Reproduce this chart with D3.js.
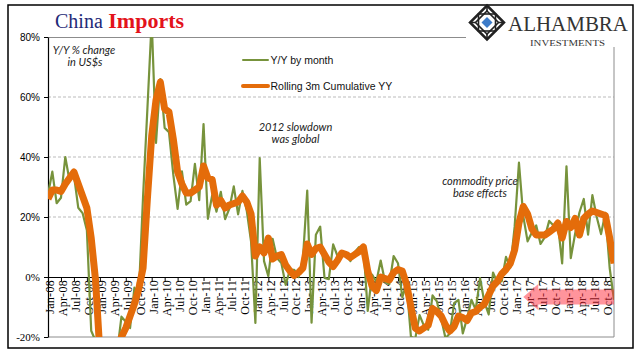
<!DOCTYPE html>
<html>
<head>
<meta charset="utf-8">
<script src="https://cdn.jsdelivr.net/npm/d3@7"></script>
<style>
  body { margin:0; background:#fff; }
  svg { display:block; }
</style>
</head>
<body>
<div class="canvas"></div>
<script>
// China imports, % Y/Y in US$, monthly Jan-08 .. Dec-18
const yoy = [
  27.6, 35.1, 24.6, 26.4, 40.0, 32.0, 34.0, 23.1, 21.3, 15.6, -17.9, -21.3,   // 2008
  -43.1, -24.1, -25.1, -23.0, -25.2, -13.2, -14.9, -17.0, -3.5, -6.4, 26.7, 55.9, // 2009
  85.5, 44.7, 66.0, 49.7, 48.3, 34.1, 22.7, 35.2, 24.1, 25.3, 37.7, 25.6,     // 2010
  51.0, 19.4, 27.3, 21.8, 28.4, 19.3, 22.9, 30.2, 20.9, 28.7, 22.1, 11.8,     // 2011
  -15.3, 39.6, 5.3, 0.3, 12.7, 6.3, 4.7, -2.6, 2.4, 2.4, 0.0, 6.0,            // 2012
  28.8, -15.2, 14.1, 16.8, -0.3, -0.7, 10.9, 7.0, 7.4, 7.6, 5.3, 8.3,         // 2013
  10.0, 10.1, -11.3, 0.8, -1.6, 5.5, -1.6, -2.4, 7.0, 4.6, -6.7, -2.4,        // 2014
  -19.9, -20.5, -12.7, -16.2, -17.6, -6.1, -8.1, -13.8, -20.4, -18.8, -8.7, -7.6, // 2015
  -18.8, -13.8, -7.6, -10.9, -0.4, -8.4, -12.5, 1.5, -1.9, -1.4, 6.7, 3.1,    // 2016
  16.7, 38.1, 20.3, 11.9, 14.8, 17.2, 11.0, 13.3, 18.7, 17.2, 17.7, 4.5,      // 2017
  36.9, 6.3, 14.4, 21.5, 26.0, 14.1, 27.3, 20.0, 14.3, 21.4, 3.0, -7.6        // 2018
];

// rolling 3 month cumulative
const rolling3m = [
  26, 29, 29, 28.5, 31, 33, 35, 31, 27, 23, 13, -1,          // 2008
  -25, -30, -28, -25, -24, -20, -17, -13, -9, -4, 3, 26,     // 2009
  47, 59, 65, 56, 55, 46, 35, 31, 28, 28, 29, 30,            // 2010
  37, 33, 32.5, 24, 25.5, 23, 24, 24.5, 25, 27, 25, 21,      // 2011
  7, 10, 8, 13, 6, 7, 7.5, 4, 2, 0.5, 1.5, 3,                // 2012
  11, 7.5, 9.5, 10, 7.5, 5, 3.5, 5.5, 8, 7.5, 6.5, 7.5,      // 2013
  8.5, 10, 2, -3, -4.5, 0, -0.5, -1, 1.5, 2.5, 2, -2.5,      // 2014
  -10, -17, -18, -17, -16, -10.5, -11.5, -13, -16, -18, -16.5, -13, // 2015
  -13.5, -14.5, -12, -11.5, -10, -9, -6, -3, -1.5, 1, 2.5, 4.5,     // 2016
  9, 18, 23.5, 21, 16, 14, 14, 14, 15, 16, 18, 13,           // 2017
  18.5, 16.5, 19.5, 14, 19.5, 21, 22, 21.5, 21, 20.5, 13, 4.5 // 2018
];

const months = d3.timeMonths(new Date(2008, 0, 1), new Date(2019, 0, 1)).map(d3.timeFormat('%b-%y'));
const monthTicks = months.filter((d, i) => i % 3 == 0);
const yTicks = [-20, 0, 20, 40, 60, 80];
const gridTicks = [20, 40, 60];

const green = '#77933c';
const orange = '#e46c0a';

const margin = { top:37, right:27, bottom:24, left:48 };
const graphWidth = 641 - margin.left - margin.right;
const graphHeight = 361 - margin.top - margin.bottom;

const svg = d3.select('.canvas')
              .append('svg')
              .attr('width', 641)
              .attr('height', 361);

svg.append('rect').attr('width', 641).attr('height', 361).attr('fill', '#fff');

// outer frame
svg.append('rect')
   .attr('x', 8).attr('y', 5)
   .attr('width', 625).attr('height', 343)
   .attr('fill', 'none')
   .attr('stroke', '#000')
   .attr('stroke-width', 1.5);

const graph = svg.append('g')
                 .attr('transform', `translate(${margin.left}, ${margin.top})`);

// scales
const x = d3.scalePoint().domain(months).range([0, graphWidth]);
const y = d3.scaleLinear().domain([-20, 80]).range([graphHeight, 0]);

// dashed gridlines
graph.append('g')
     .selectAll('line')
     .data(gridTicks)
     .enter().append('line')
     .attr('x1', 0).attr('x2', graphWidth)
     .attr('y1', d => y(d)).attr('y2', d => y(d))
     .attr('stroke', '#aaa')
     .attr('stroke-width', 0.8)
     .attr('stroke-dasharray', '3,2');

// grey plot border (top, right, bottom)
graph.append('path')
     .attr('d', `M0,0.5H${graphWidth}V${graphHeight}H0`)
     .attr('fill', 'none')
     .attr('stroke', '#8c8c8c')
     .attr('stroke-width', 1);

// x axis on the 0% line
const xAxisGroup = graph.append('g')
                        .attr('class', 'x-axis')
                        .attr('transform', `translate(0, ${y(0)})`);
xAxisGroup.call(d3.axisBottom(x).tickValues(monthTicks).tickSize(4).tickSizeOuter(0));
xAxisGroup.select('.domain').attr('stroke', '#000').attr('stroke-width', 1.2);
xAxisGroup.selectAll('.tick line').attr('stroke', '#000');
xAxisGroup.selectAll('text')
          .attr('transform', 'rotate(-90)')
          .attr('text-anchor', 'end')
          .attr('x', -3)
          .attr('y', 1.5)
          .attr('dy', '0.35em')
          .attr('fill', '#000')
          .style('font-family', '"Liberation Serif", "Times New Roman", serif')
          .style('font-size', '12px')
          .style('letter-spacing', '0.3px');

// y axis
const yAxisGroup = graph.append('g').attr('class', 'y-axis');
yAxisGroup.call(d3.axisLeft(y).tickValues(yTicks).tickSize(4).tickSizeOuter(0).tickFormat(d => d + '%'));
yAxisGroup.select('.domain').attr('stroke', '#000').attr('stroke-width', 1.2);
yAxisGroup.selectAll('.tick line').attr('stroke', '#000');
yAxisGroup.selectAll('text')
          .attr('x', -8)
          .attr('fill', '#000')
          .style('font-family', d => d > 0 ? '"Liberation Sans", Arial, sans-serif' : '"Liberation Serif", serif')
          .style('font-size', d => d > 0 ? '10px' : '11px');

// clip so the 2009/2010 extremes get cut at the plot edge
graph.append('clipPath').attr('id', 'plotClip')
     .append('rect').attr('width', graphWidth).attr('height', graphHeight);

const lineYoy = d3.line()
                  .x((d, i) => x(months[i]))
                  .y(d => y(d));

graph.append('path')
     .datum(yoy)
     .attr('clip-path', 'url(#plotClip)')
     .attr('fill', 'none')
     .attr('stroke', green)
     .attr('stroke-width', 2.2)
     .attr('stroke-linejoin', 'round')
     .attr('d', lineYoy);

graph.append('path')
     .datum(rolling3m)
     .attr('clip-path', 'url(#plotClip)')
     .attr('fill', 'none')
     .attr('stroke', orange)
     .attr('stroke-width', 7)
     .attr('stroke-linejoin', 'round')
     .attr('d', lineYoy);

// pink arrow over the late 2017-2018 labels
const ax0 = margin.left + x('Mar-17');
const ax1 = margin.left + graphWidth;
const ay = 297;
svg.append('path')
   .attr('d', `M${ax0},${ay} L${ax0 + 15},${ay - 13} V${ay - 7.5} H${ax1} V${ay + 7.5} H${ax0 + 15} V${ay + 13} Z`)
   .attr('fill', '#ff2a3a')
   .attr('opacity', 0.5);

// title
const title = svg.append('text')
                 .attr('x', 55).attr('y', 28)
                 .style('font-family', '"Liberation Serif", "Times New Roman", serif');
title.append('tspan').text('China').attr('fill', '#1f2a78').style('font-size', '20px');
title.append('tspan').text(' Imports').attr('fill', '#e3131b').style('font-size', '22px').style('font-weight', 'bold');

// notes
const noteFont = 'Lato, "Open Sans", sans-serif';
const notes = [
  { t: 'Y/Y % change', x: 84, y: 54 },
  { t: 'in US$s', x: 85, y: 66 },
  { t: '2012 slowdown', x: 295.5, y: 130.5 },
  { t: 'was global', x: 295.5, y: 142.5 },
  { t: 'commodity price', x: 480, y: 185 },
  { t: 'base effects', x: 480, y: 197 }
];
svg.selectAll('.note')
   .data(notes)
   .enter().append('text')
   .attr('class', 'note')
   .attr('x', d => d.x).attr('y', d => d.y)
   .attr('text-anchor', 'middle')
   .attr('fill', '#222')
   .style('font-family', noteFont)
   .style('font-style', 'italic')
   .style('font-size', '11px')
   .text(d => d.t);

// legend
const legend = svg.append('g');
const legendItems = [
  { label: 'Y/Y by month', color: green, w: 2, y: 60 },
  { label: 'Rolling 3m Cumulative YY', color: orange, w: 4, y: 86 }
];
legendItems.forEach(item => {
  legend.append('line')
        .attr('x1', 243).attr('x2', 268)
        .attr('y1', item.y).attr('y2', item.y)
        .attr('stroke', item.color)
        .attr('stroke-width', item.w)
        .attr('stroke-linecap', 'round');
  legend.append('text')
        .attr('x', 270.5).attr('y', item.y)
        .attr('dy', '0.35em')
        .attr('fill', '#111')
        .style('font-family', '"Liberation Sans", Arial, sans-serif')
        .style('font-size', '10.5px')
        .text(item.label);
});

// logo block (white box sits over the plot border)
const logo = svg.append('g');
logo.append('rect').attr('x', 466).attr('y', 7).attr('width', 164).attr('height', 40).attr('fill', '#fff');
const icon = logo.append('g').attr('transform', 'translate(487, 22.5)');
const diamond = r => `M0,${-r}L${r},0L0,${r}L${-r},0Z`;
icon.append('path').attr('d', diamond(17)).attr('fill', 'none').attr('stroke', '#222').attr('stroke-width', 2.5);
icon.append('path').attr('d', diamond(11.5)).attr('fill', 'none').attr('stroke', '#222').attr('stroke-width', 1.6);
icon.append('rect').attr('x', -8.5).attr('y', -8.5).attr('width', 17).attr('height', 17)
    .attr('fill', 'none').attr('stroke', '#222').attr('stroke-width', 1.6);
icon.append('path').attr('d', 'M0,-17V-11.5M0,17V11.5M-17,0H-11.5M17,0H11.5')
    .attr('stroke', '#222').attr('stroke-width', 1.6);
icon.append('path').attr('d', diamond(5.5)).attr('fill', '#3d7cc9');
logo.append('text')
    .attr('x', 508).attr('y', 30.5)
    .attr('textLength', 120).attr('lengthAdjust', 'spacingAndGlyphs')
    .attr('fill', '#333')
    .style('font-family', '"Liberation Serif", "Times New Roman", serif')
    .style('font-size', '21px')
    .text('ALHAMBRA');
logo.append('text')
    .attr('x', 530).attr('y', 45.5)
    .attr('textLength', 75).attr('lengthAdjust', 'spacingAndGlyphs')
    .attr('fill', '#333')
    .style('font-family', '"Liberation Serif", "Times New Roman", serif')
    .style('font-size', '8.5px')
    .text('INVESTMENTS');
</script>
</body>
</html>
